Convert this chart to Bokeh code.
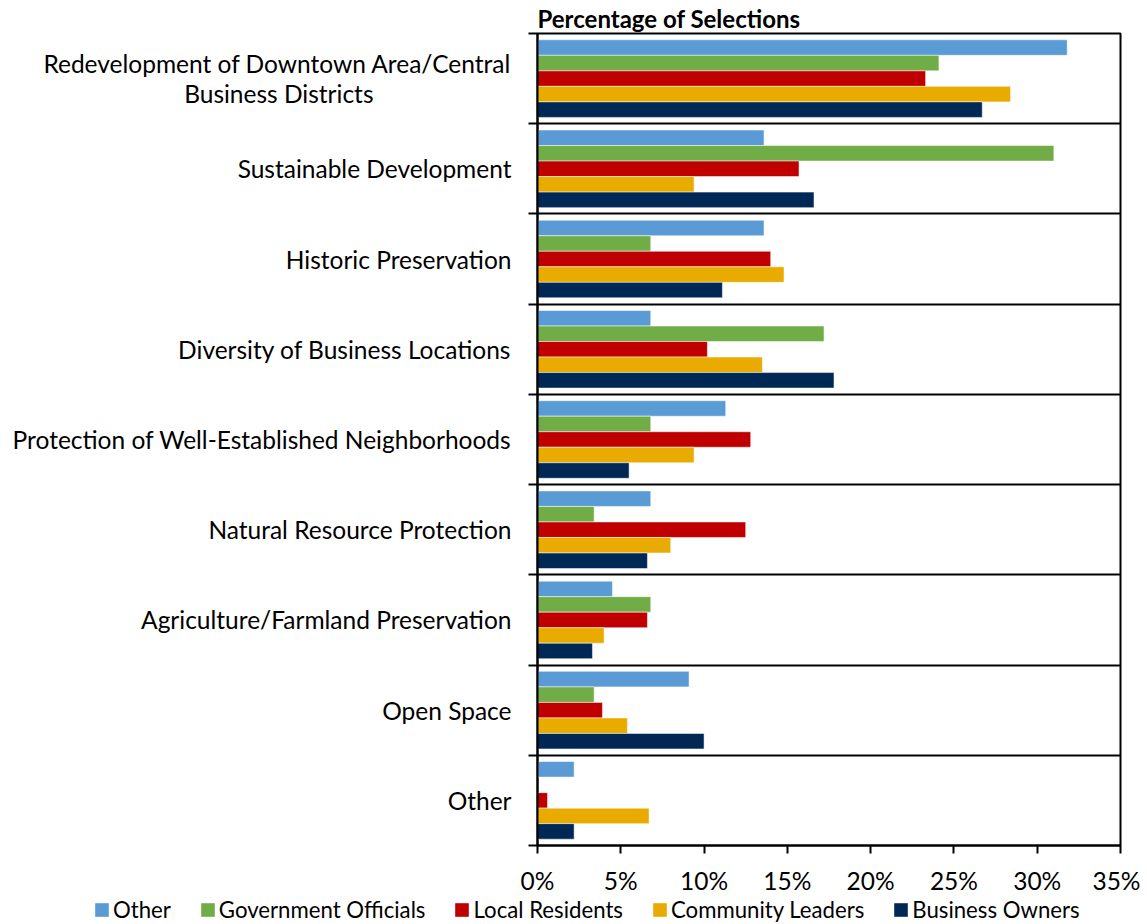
from bokeh.plotting import figure
from bokeh.layouts import column
from bokeh.models import Range1d, FixedTicker, PrintfTickFormatter, Legend, LegendItem, ColumnDataSource
from bokeh.transform import dodge
from bokeh.embed import file_html
from bokeh.resources import INLINE

categories = [
    "Redevelopment of Downtown Area/Central\nBusiness Districts" + "\u00a0" * 22,
    "Sustainable Development",
    "Historic Preservation",
    "Diversity of Business Locations",
    "Protection of Well-Established Neighborhoods",
    "Natural Resource Protection",
    "Agriculture/Farmland Preservation",
    "Open Space",
    "Other",
]
series_names = ["Other", "Government Officials", "Local Residents", "Community Leaders", "Business Owners"]
other = [31.8, 13.6, 13.6, 6.8, 11.3, 6.8, 4.5, 9.1, 2.2]
government = [24.1, 31.0, 6.8, 17.2, 6.8, 3.4, 6.8, 3.4, 0.0]
local_res = [23.3, 15.7, 14.0, 10.2, 12.8, 12.5, 6.6, 3.9, 0.6]
community = [28.4, 9.4, 14.8, 13.5, 9.4, 8.0, 4.0, 5.4, 6.7]
business = [26.7, 16.6, 11.1, 17.8, 5.5, 6.6, 3.3, 10.0, 2.2]
x_ticks = [0, 5, 10, 15, 20, 25, 30, 35]

colors = ["#5B9BD5", "#70AD47", "#C00000", "#EAAB00", "#002855"]
FONT = "Lato"

n = len(categories)
pos = [n - 1 - i for i in range(n)]
src = ColumnDataSource(dict(pos=pos, s0=other, s1=government,
                            s2=local_res, s3=community, s4=business))

p = figure(width=1140, height=897, x_range=Range1d(0, 35), y_range=Range1d(-0.5, n - 0.5),
           output_backend="svg", toolbar_location=None,
           min_border_left=537, min_border_right=20, min_border_top=32, min_border_bottom=47)
p.frame_align = False

bh = 0.172
offsets = [2 * bh, bh, 0, -bh, -2 * bh]
for k in range(5):
    p.hbar(y=dodge("pos", offsets[k], range=p.y_range), right="s%d" % k, left=0,
           height=bh, source=src, fill_color=colors[k], line_color="white",
           line_alpha=0.5, line_width=1)

# title
p.title.text = "Percentage of Selections"
p.title.text_font = FONT
p.title.text_font_style = "bold"
p.title.text_font_size = "24px"
p.title.text_color = "black"
p.title.align = "left"
p.title.standoff = 2
p.title.offset = 0

# frame
p.outline_line_color = "black"
p.outline_line_width = 2
p.outline_line_alpha = 1
p.background_fill_color = "white"
p.border_fill_color = "white"

# x axis
p.xgrid.grid_line_color = None
p.xaxis.ticker = FixedTicker(ticks=x_ticks)
p.xaxis.formatter = PrintfTickFormatter(format="%d%%")
p.xaxis.major_tick_out = 8
p.xaxis.major_tick_in = 0
p.xaxis.minor_tick_out = 0
p.xaxis.minor_tick_in = 0
p.xaxis.axis_line_color = "black"
p.xaxis.axis_line_width = 2
p.xaxis.major_tick_line_color = "black"
p.xaxis.major_tick_line_width = 2
p.xaxis.major_label_text_font = FONT
p.xaxis.major_label_text_font_size = "24.5px"
p.xaxis.major_label_text_color = "black"
p.xaxis.major_label_standoff = 12

# y axis
bounds = [i - 0.5 for i in range(n + 1)]
p.yaxis.ticker = FixedTicker(ticks=pos, minor_ticks=bounds)
p.yaxis.major_label_overrides = {pos[i]: categories[i] for i in range(n)}
p.yaxis.major_tick_out = 0
p.yaxis.major_tick_in = 0
p.yaxis.minor_tick_out = 9
p.yaxis.minor_tick_in = 0
p.yaxis.minor_tick_line_color = "black"
p.yaxis.minor_tick_line_width = 2
p.yaxis.axis_line_color = "black"
p.yaxis.axis_line_width = 2
p.yaxis.major_label_text_font = FONT
p.yaxis.major_label_text_font_size = "24.5px"
p.yaxis.major_label_text_line_height = 1.05
p.yaxis.major_label_text_color = "black"
p.yaxis.major_label_standoff = 17
p.ygrid.ticker = FixedTicker(ticks=bounds[1:-1])
p.ygrid.grid_line_color = "black"
p.ygrid.grid_line_width = 2

# legend strip (bars drawn from the same data, kept outside this strip's x range)
lg = figure(width=1140, height=26, x_range=Range1d(-20, -19), y_range=Range1d(0, 1),
            output_backend="svg", toolbar_location=None,
            x_axis_location=None, y_axis_location=None,
            min_border=0, min_border_left=0, min_border_right=0, min_border_top=0, min_border_bottom=0)
lg.frame_align = False
lg.outline_line_color = None
lg.xgrid.visible = False
lg.ygrid.visible = False
lg_renderers = [lg.hbar(y="pos", right="s%d" % k, left=0, height=0.5, source=src,
                        fill_color=colors[k], line_color=None)
                for k in range(5)]
legend = Legend(items=[LegendItem(label=series_names[k], renderers=[lg_renderers[k]]) for k in range(5)],
                location=(93, 0), orientation="horizontal")
legend.label_text_font = FONT
legend.label_text_font_size = "22.2px"
legend.label_text_color = "black"
legend.glyph_width = 17
legend.glyph_height = 17
legend.label_standoff = 3
legend.spacing = 28
legend.padding = 0
legend.margin = 0
legend.border_line_color = None
legend.background_fill_alpha = 0
lg.add_layout(legend)

layout = column(p, lg, spacing=0)
open("out.html", "w").write(file_html(layout, INLINE))
